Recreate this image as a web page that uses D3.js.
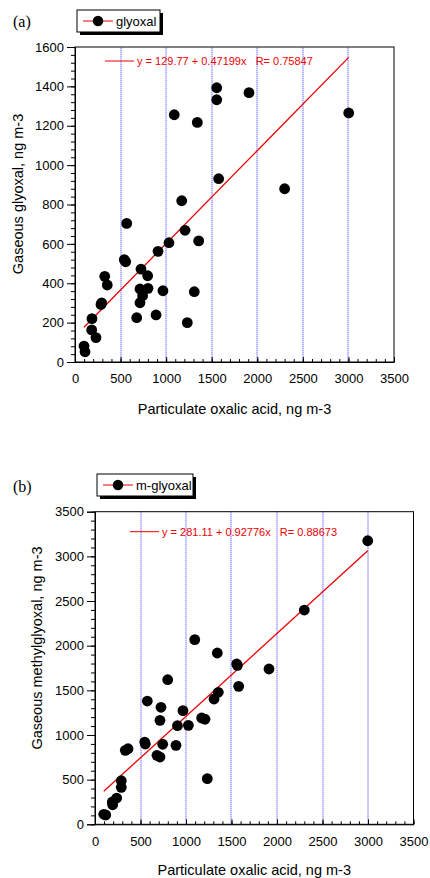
<!DOCTYPE html>
<html>
<head>
<meta charset="utf-8" />
<script src="https://d3js.org/d3.v7.min.js"></script>
<style>
  body { margin: 0; background: #fff; }
  svg { display: block; }
</style>
</head>
<body>
<script>
// oxalic acid (x) vs gaseous glyoxal (y), panel (a)
var glyoxalX = [1555, 1555, 1909, 1089, 1342, 3003, 1576, 2300, 1171, 567, 1207, 1031, 1357, 911,
                541, 556, 724, 326, 354, 797, 713, 801, 742, 965, 1309, 293, 285, 713, 186, 677,
                889, 1232, 183, 230, 99, 110];
var glyoxalY = [1393, 1332, 1368, 1256, 1217, 1265, 931, 880, 819, 704, 669, 606, 615, 562,
                520, 509, 472, 435, 391, 438, 371, 374, 337, 362, 357, 300, 292, 301, 220, 225,
                239, 200, 163, 124, 81, 52];

// oxalic acid (x) vs gaseous methylglyoxal (y), panel (b)
var mglyoxalX = [2997, 2300, 1096, 1344, 1557, 1565, 1912, 799, 1579, 1355, 1308, 575, 725, 967,
                 714, 906, 1026, 1172, 1209, 546, 553, 744, 890, 681, 714, 333, 363, 1234, 289,
                 289, 190, 194, 238, 96, 118];
var mglyoxalY = [3175, 2399, 2067, 1918, 1795, 1780, 1739, 1619, 1545, 1478, 1403, 1380, 1310, 1272,
                 1164, 1104, 1108, 1190, 1176, 921, 899, 896, 884, 772, 753, 828, 846, 511, 488,
                 414, 250, 219, 294, 112, 104];

var xTicks = [0, 500, 1000, 1500, 2000, 2500, 3000, 3500];
var gridX = [500, 1000, 1500, 2000, 2500, 3000];
var yTicksA = [0, 200, 400, 600, 800, 1000, 1200, 1400, 1600];
var yTicksB = [0, 500, 1000, 1500, 2000, 2500, 3000, 3500];

// linear fits as printed on the figure
var fitA = { a: 129.77, b: 0.47199, r: 0.75847 };
var fitB = { a: 281.11, b: 0.92776, r: 0.88673 };

var W = 430, H = 878;
var svg = d3.select("body").append("svg").attr("width", W).attr("height", H);

var sans = "'Liberation Sans', Arial, sans-serif";

function drawPanel(p) {
  var xs = d3.scaleLinear().domain([0, 3500]).range([p.left, p.right]);
  var ys = d3.scaleLinear().domain([0, p.ymax]).range([p.bottom, p.top]);
  var g = svg.append("g");

  // blue dotted grid lines; dashes start off the pixel grid so they blend to a soft blue
  g.selectAll("line.grid").data(gridX).enter().append("line")
    .attr("class", "grid")
    .attr("x1", function (d) { return Math.round(xs(d)); })
    .attr("x2", function (d) { return Math.round(xs(d)); })
    .attr("y1", Math.floor(p.top) + 0.7).attr("y2", p.bottom)
    .attr("stroke", "#2f2fff").attr("stroke-width", 1)
    .attr("stroke-dasharray", "1,1");

  // y axis: ticks outward
  var yAxis = d3.axisLeft(ys).tickValues(p.yticks).tickSize(8).tickPadding(3)
    .tickFormat(d3.format("d"));
  g.append("g").attr("transform", "translate(" + p.left + ",0)").call(yAxis);
  var yMinor = d3.axisLeft(ys).tickValues(d3.range(0, p.ymax + 1, p.yminor)).tickSize(4)
    .tickFormat("");
  g.append("g").attr("transform", "translate(" + p.left + ",0)").call(yMinor)
    .select(".domain").remove();

  // x axis: ticks inward
  var xAxis = d3.axisBottom(xs).tickValues(xTicks).tickSizeInner(-5).tickSizeOuter(0)
    .tickPadding(12).tickFormat(d3.format("d"));
  g.append("g").attr("transform", "translate(0," + p.bottom + ")").call(xAxis);
  var xMinor = d3.axisBottom(xs).tickValues(d3.range(0, 3501, 100)).tickSizeInner(-3)
    .tickSizeOuter(0).tickFormat("");
  g.append("g").attr("transform", "translate(0," + p.bottom + ")").call(xMinor)
    .select(".domain").remove();

  g.selectAll(".tick text").attr("font-family", sans).attr("font-size", 13).attr("fill", "#000");
  g.selectAll(".tick line").attr("stroke", "#000");

  // frame
  g.append("rect").attr("x", p.left).attr("y", p.top)
    .attr("width", p.right - p.left).attr("height", p.bottom - p.top)
    .attr("fill", "none").attr("stroke", "#000").attr("stroke-width", 1);

  // fit line, from min to max x
  var xmin = d3.min(p.x), xmax = d3.max(p.x);
  g.append("line")
    .attr("x1", xs(xmin)).attr("y1", ys(p.fit.a + p.fit.b * xmin))
    .attr("x2", xs(xmax)).attr("y2", ys(p.fit.a + p.fit.b * xmax))
    .attr("stroke", "#ee0000").attr("stroke-width", 1.3);

  // points
  g.selectAll("circle.pt").data(p.x).enter().append("circle")
    .attr("class", "pt")
    .attr("cx", function (d) { return xs(d); })
    .attr("cy", function (d, i) { return ys(p.y[i]); })
    .attr("r", 5.4).attr("fill", "#000");

  // fit legend
  g.append("line").attr("x1", p.fitLeg[0]).attr("x2", p.fitLeg[0] + 29)
    .attr("y1", p.fitLeg[1]).attr("y2", p.fitLeg[1])
    .attr("stroke", "#ee0000").attr("stroke-width", 1);
  g.append("text").attr("x", p.fitLeg[0] + 32).attr("y", p.fitLeg[1] + 4)
    .attr("font-family", sans).attr("font-size", 11).attr("fill", "#ee0000")
    .attr("xml:space", "preserve")
    .text("y = " + p.fit.a.toFixed(2) + " + " + p.fit.b.toFixed(5) + "x   R= " + p.fit.r.toFixed(5));

  // series legend box with shadow
  var L = p.legend;
  g.append("rect").attr("x", L.x + 3).attr("y", L.y + 3).attr("width", L.w).attr("height", L.h)
    .attr("fill", "#000");
  g.append("rect").attr("x", L.x).attr("y", L.y).attr("width", L.w).attr("height", L.h)
    .attr("fill", "#fff").attr("stroke", "#000").attr("stroke-width", 1);
  g.append("line").attr("x1", L.x + 6).attr("x2", L.x + 36)
    .attr("y1", L.y + L.h / 2).attr("y2", L.y + L.h / 2)
    .attr("stroke", "#ee0000").attr("stroke-width", 1);
  g.append("circle").attr("cx", L.x + 21).attr("cy", L.y + L.h / 2).attr("r", 5.2).attr("fill", "#000");
  g.append("text").attr("x", L.x + 39).attr("y", L.y + L.h / 2 + 4.5)
    .attr("font-family", sans).attr("font-size", 13).text(L.label);

  // panel letter
  svg.append("text").attr("x", 13).attr("y", p.letterY)
    .attr("font-family", "'Liberation Serif', 'Times New Roman', serif").attr("font-size", 16)
    .text(p.letter);

  // axis titles
  svg.append("text").attr("x", (p.left + p.right) / 2).attr("y", p.xTitleY)
    .attr("text-anchor", "middle").attr("font-family", sans).attr("font-size", 14.5)
    .text("Particulate oxalic acid, ng m-3");
  svg.append("text")
    .attr("transform", "translate(" + p.yTitleX + "," + p.yTitleMid + ") rotate(-90)")
    .attr("text-anchor", "middle").attr("font-family", sans).attr("font-size", 14.5)
    .text(p.yTitle);
}

drawPanel({
  left: 75, right: 394, top: 47, bottom: 362, ymax: 1600, yminor: 40, yticks: yTicksA,
  x: glyoxalX, y: glyoxalY, fit: fitA, fitLeg: [105, 61],
  legend: { x: 77, y: 10, w: 83, h: 22, label: "glyoxal" },
  letter: "(a)", letterY: 27, xTitleY: 414, yTitleX: 23, yTitleMid: 194,
  yTitle: "Gaseous glyoxal, ng m-3"
});

drawPanel({
  left: 95, right: 413.5, top: 511.7, bottom: 824.3, ymax: 3500, yminor: 100, yticks: yTicksB,
  x: mglyoxalX, y: mglyoxalY, fit: fitB, fitLeg: [130, 531.7],
  legend: { x: 97, y: 474, w: 96, h: 22, label: "m-glyoxal" },
  letter: "(b)", letterY: 492, xTitleY: 875, yTitleX: 42, yTitleMid: 648,
  yTitle: "Gaseous methylglyoxal, ng m-3"
});
</script>
</body>
</html>
